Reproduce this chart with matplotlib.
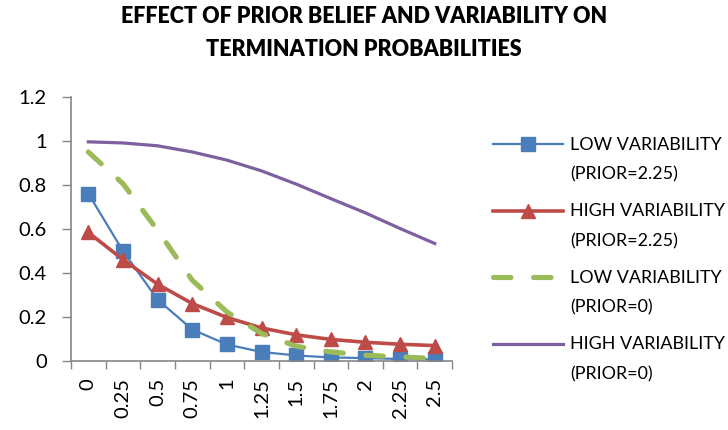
import numpy as np
import matplotlib.pyplot as plt
from matplotlib.ticker import FixedLocator, FuncFormatter

plt.rcParams['font.family'] = ['Lato', 'DejaVu Sans']

# data
x_labels = ['0', '0.25', '0.5', '0.75', '1', '1.25', '1.5', '1.75', '2', '2.25', '2.5']
low_var_prior225 = [0.762, 0.501, 0.280, 0.144, 0.076, 0.042, 0.026, 0.017, 0.014, 0.010, 0.008]
high_var_prior225 = [0.585, 0.462, 0.350, 0.262, 0.199, 0.151, 0.120, 0.099, 0.086, 0.077, 0.071]
low_var_prior0 = [0.951, 0.807, 0.595, 0.368, 0.224, 0.126, 0.068, 0.042, 0.027, 0.020, 0.012]
high_var_prior0 = [0.997, 0.992, 0.979, 0.951, 0.914, 0.865, 0.805, 0.739, 0.674, 0.603, 0.535]

x = np.arange(len(x_labels))

fig = plt.figure(figsize=(7.28, 4.30), dpi=100)
ax = fig.add_axes([0.0975, 0.160, 0.5235, 0.614])

ax.plot(x, low_var_prior225, color='#4A7EBB', lw=1.6, marker='s', ms=10,
        label='LOW VARIABILITY\n(PRIOR=2.25)')
ax.plot(x, high_var_prior225, color='#BE4B48', lw=2.6, marker='^', ms=10,
        label='HIGH VARIABILITY\n(PRIOR=2.25)')
ax.plot(x, low_var_prior0, color='#9BBB59', lw=3.7, ls=(0, (3.4, 4.4)),
        dash_capstyle='round', label='LOW VARIABILITY\n(PRIOR=0)')
ax.plot(x, high_var_prior0, color='#7D60A0', lw=2.3,
        label='HIGH VARIABILITY\n(PRIOR=0)')

ax.set_xlim(-0.5, len(x_labels) - 0.5)
ax.set_ylim(0, 1.2)
ax.set_yticks(np.arange(0, 1.21, 0.2))
ax.yaxis.set_major_formatter(FuncFormatter(lambda v, p: '%g' % round(v, 1)))

ax.set_xticks(x)
ax.set_xticklabels(x_labels, rotation=90, fontsize=14.5)
ax.xaxis.set_minor_locator(FixedLocator(np.arange(-0.5, len(x_labels), 1)))
ax.tick_params(axis='x', which='major', length=0, pad=12)
ax.tick_params(axis='x', which='minor', length=5.5, color='#868686', width=1)
ax.tick_params(axis='y', length=6.5, color='#868686', width=1, labelsize=14.5, pad=11)

for s in ['top', 'right']:
    ax.spines[s].set_visible(False)
for s in ['left', 'bottom']:
    ax.spines[s].set_color('#868686')
    ax.spines[s].set_linewidth(1.2)

fig.text(0.5, 0.923, 'EFFECT OF PRIOR BELIEF AND VARIABILITY ON\nTERMINATION PROBABILITIES',
         ha='center', va='center', fontsize=15.5, fontweight='heavy', linespacing=1.72)

leg = ax.legend(loc='upper left', bbox_to_anchor=(0.655, 0.719), bbox_transform=fig.transFigure,
                frameon=False, fontsize=12.9, handlelength=3.9, handletextpad=0.4,
                handleheight=1.0, labelspacing=1.15)
for t in leg.get_texts():
    t.set_linespacing(2.05)
# put each handle beside the first line of its label, like Excel does
for col in leg._legend_handle_box.get_children():
    for item in col.get_children():
        item.align = 'top'

fig.savefig('out.png', dpi=100)
